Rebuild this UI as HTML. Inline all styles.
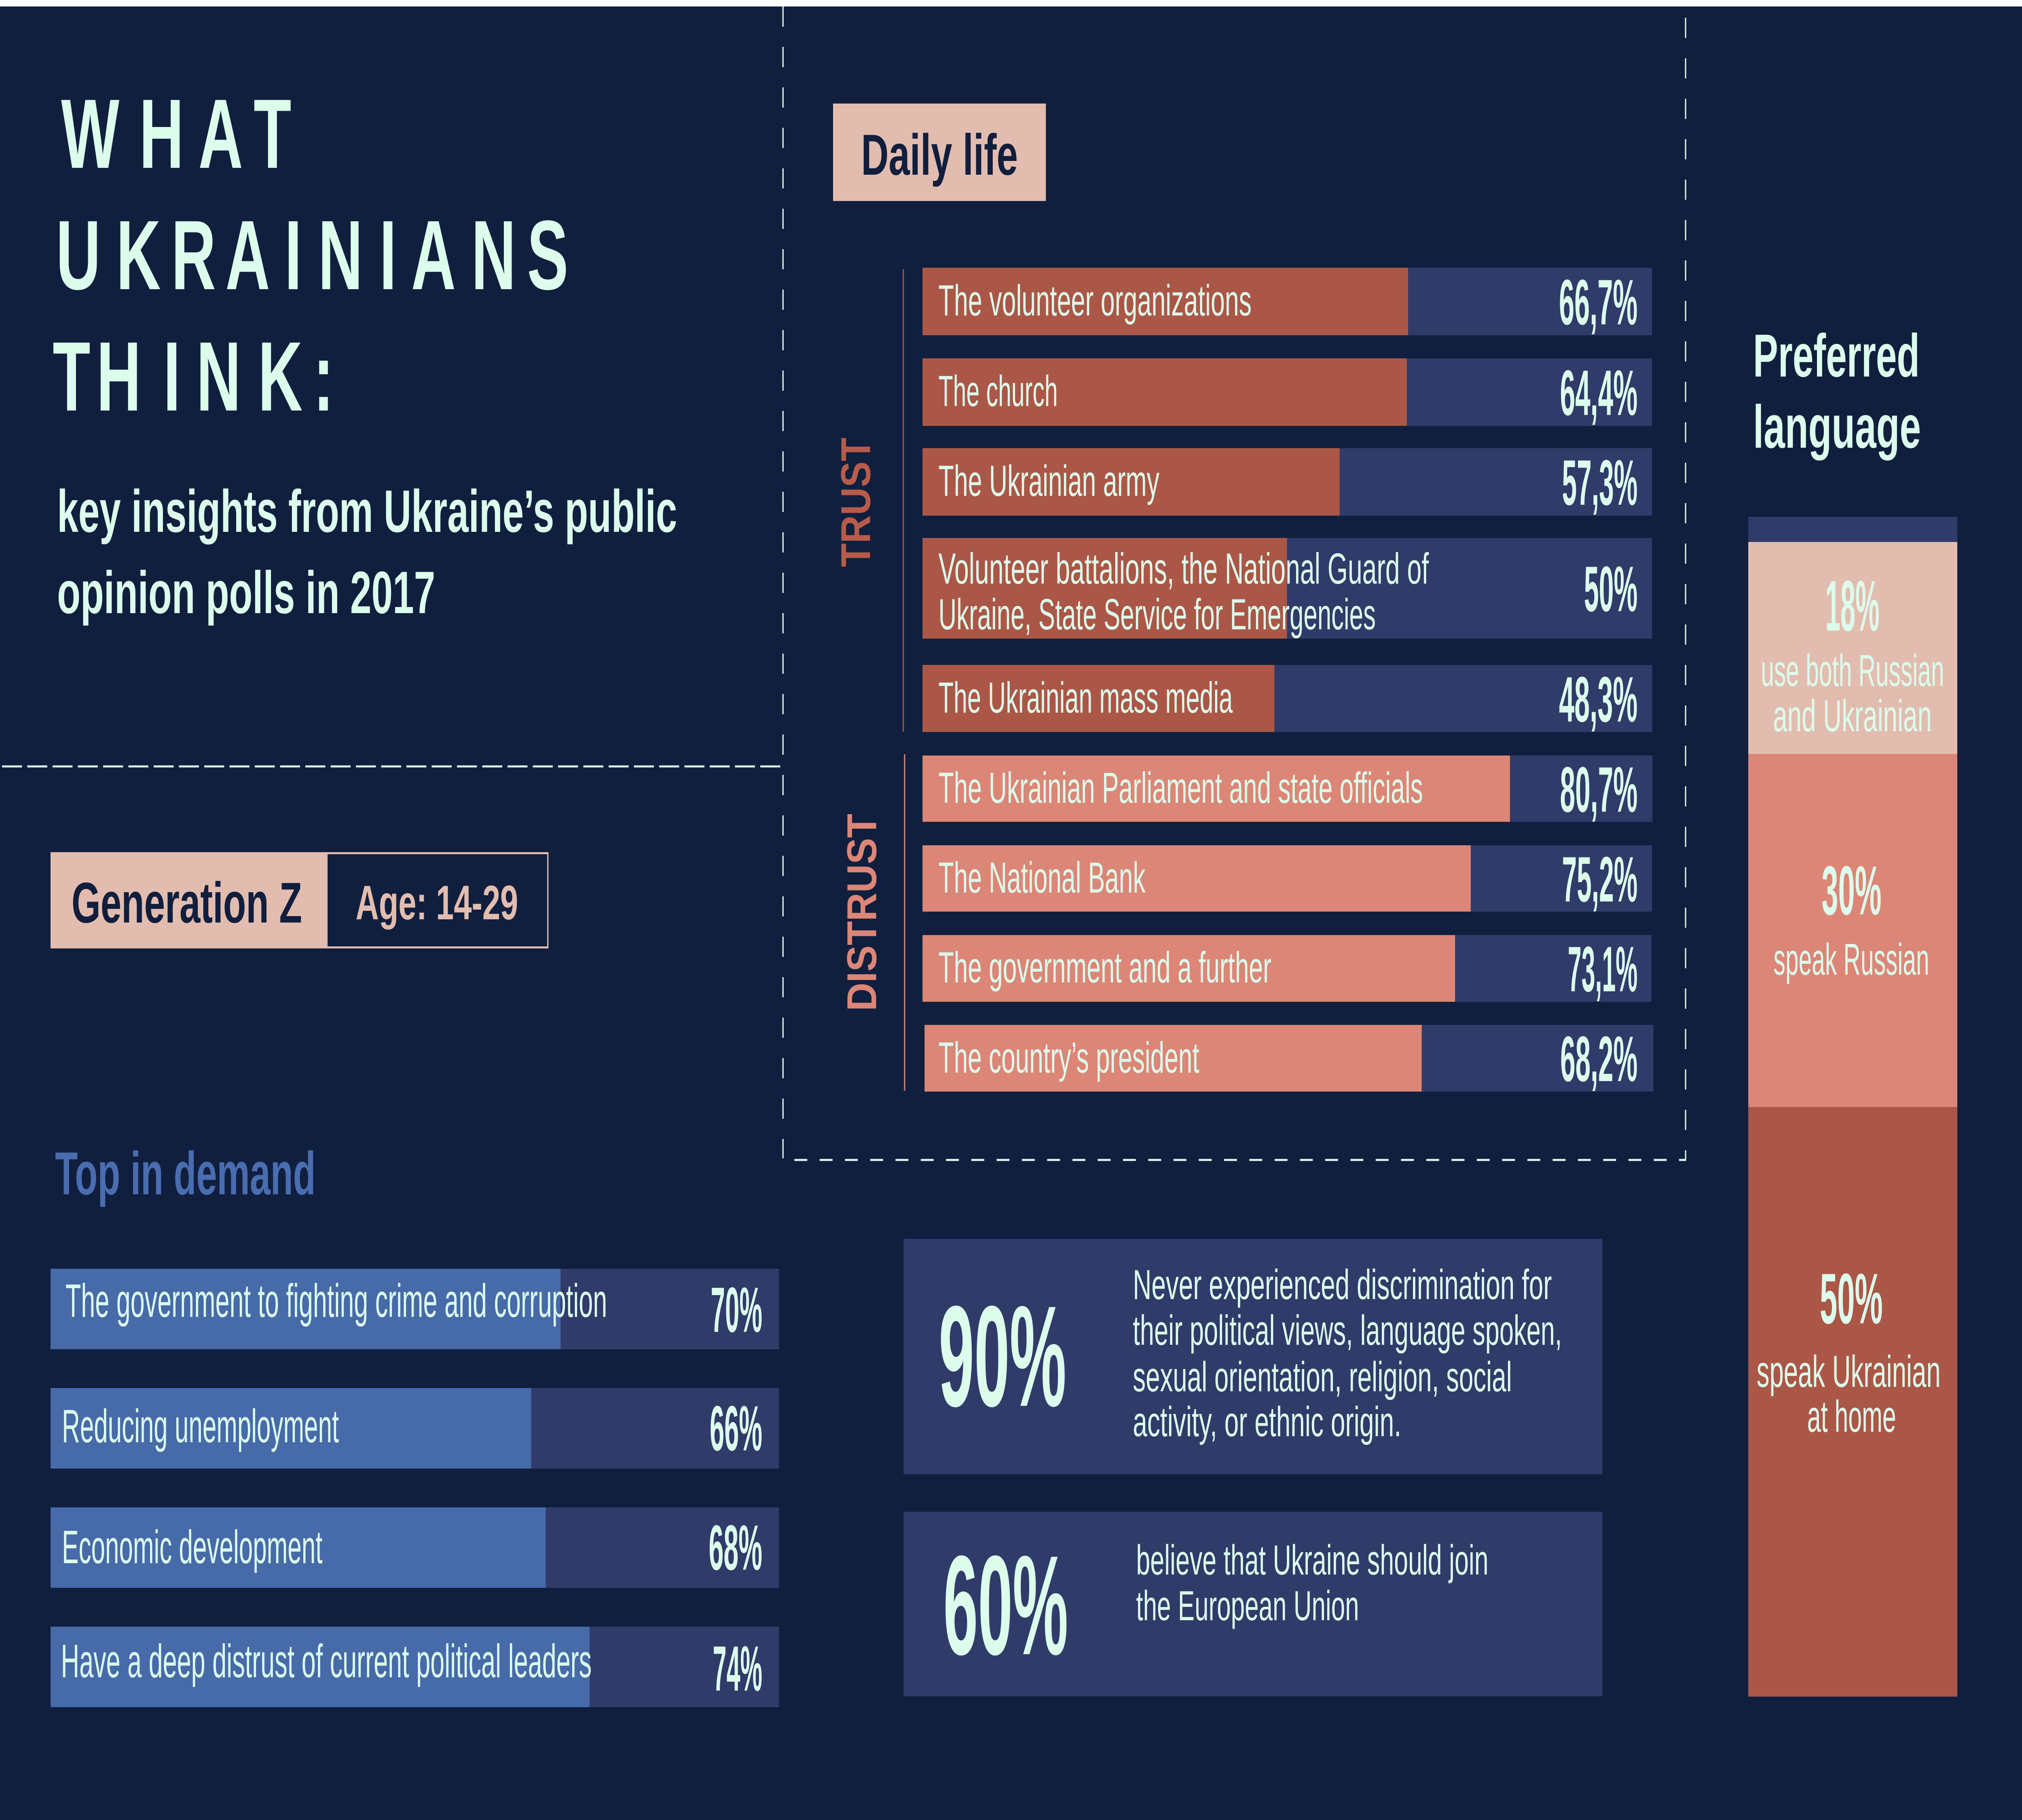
<!DOCTYPE html>
<html>
<head>
<meta charset="utf-8">
<style>
  html,body{margin:0;padding:0;width:100%;height:100%;overflow:hidden;background:#101f3e;}
  svg{display:block;width:100vw;height:100vh;}
  text{font-family:"Liberation Sans", sans-serif;}
</style>
</head>
<body>
<svg xmlns="http://www.w3.org/2000/svg" viewBox="0 0 8000 4500" preserveAspectRatio="none">
  <!-- background -->
  <rect x="0" y="0" width="8000" height="4500" fill="#101f3e"/>
  <rect x="0" y="0" width="8000" height="16" fill="#ffffff"/>

  <!-- dashed frame lines -->
  <g stroke="#dcfcec" stroke-width="5" fill="none">
    <line x1="3098" y1="16" x2="3098" y2="2864" stroke-dasharray="50 50"/>
    <line x1="8" y1="1895" x2="3088" y2="1895" stroke-dasharray="79 21"/>
    <line x1="6669" y1="44" x2="6669" y2="2869" stroke-dasharray="50 50"/>
    <line x1="3143" y1="2868" x2="6671" y2="2868" stroke-dasharray="51 49"/>
  </g>

  <!-- TITLE -->
  <g fill="#dcfcec" font-weight="bold" font-size="244" text-anchor="middle">
    <text x="357" y="415">W</text>
    <text x="639" y="415">H</text>
    <text x="873" y="415">A</text>
    <text x="1078" y="415">T</text>

    <text x="310" y="715">U</text>
    <text x="548" y="715">K</text>
    <text x="766" y="715">R</text>
    <text x="980" y="715">A</text>
    <text x="1160" y="715">I</text>
    <text x="1347" y="715">N</text>
    <text x="1535" y="715">I</text>
    <text x="1715" y="715">A</text>
    <text x="1953" y="715">N</text>
    <text x="2167" y="715">S</text>

    <text x="283" y="1015">T</text>
    <text x="470" y="1015">H</text>
    <text x="680" y="1015">I</text>
    <text x="865" y="1015">N</text>
    <text x="1109" y="1015">K</text>
    <text x="1280" y="1015">:</text>
  </g>

  <g fill="#dcfcec" font-weight="bold" font-size="148">
    <text x="226" y="1315" textLength="2453" lengthAdjust="spacingAndGlyphs">key insights from Ukraine’s public</text>
    <text x="226" y="1516" textLength="1496" lengthAdjust="spacingAndGlyphs">opinion polls in 2017</text>
  </g>

  <!-- Generation Z -->
  <rect x="200" y="2107" width="1091" height="238" fill="#e2bdaf"/>
  <rect x="1293.5" y="2109.5" width="874" height="233" fill="none" stroke="#e2bdaf" stroke-width="5"/>
  <text x="283" y="2281" font-weight="bold" font-size="142" fill="#111e3d" textLength="912" lengthAdjust="spacingAndGlyphs">Generation Z</text>
  <text x="1407" y="2273" font-weight="bold" font-size="120" fill="#e2bdaf" textLength="643" lengthAdjust="spacingAndGlyphs">Age: 14-29</text>

  <!-- Top in demand -->
  <text x="218" y="2953" font-weight="bold" font-size="150" fill="#4a6cb0" textLength="1031" lengthAdjust="spacingAndGlyphs">Top in demand</text>

  <g>
    <rect x="200" y="3137" width="2882" height="199" fill="#303b69"/>
    <rect x="200" y="3137" width="2018" height="199" fill="#476aa9"/>
    <rect x="200" y="3432" width="2882" height="199" fill="#303b69"/>
    <rect x="200" y="3432" width="1902" height="199" fill="#476aa9"/>
    <rect x="200" y="3727" width="2882" height="199" fill="#303b69"/>
    <rect x="200" y="3727" width="1959" height="199" fill="#476aa9"/>
    <rect x="200" y="4022" width="2882" height="199" fill="#303b69"/>
    <rect x="200" y="4022" width="2133" height="199" fill="#476aa9"/>
  </g>
  <g fill="#dcfcec" font-size="116">
    <text x="259" y="3256" textLength="2143" lengthAdjust="spacingAndGlyphs">The government to fighting crime and corruption</text>
    <text x="245" y="3566" textLength="1096" lengthAdjust="spacingAndGlyphs">Reducing unemployment</text>
    <text x="245" y="3865" textLength="1031" lengthAdjust="spacingAndGlyphs">Economic development</text>
    <text x="241" y="4147" textLength="2100" lengthAdjust="spacingAndGlyphs">Have a deep distrust of current political leaders</text>
  </g>
  <g fill="#dcfcec" font-size="158" font-weight="bold">
    <text x="2812" y="3293" textLength="204" lengthAdjust="spacingAndGlyphs">70%</text>
    <text x="2808" y="3586" textLength="208" lengthAdjust="spacingAndGlyphs">66%</text>
    <text x="2804" y="3881" textLength="212" lengthAdjust="spacingAndGlyphs">68%</text>
    <text x="2820" y="4180" textLength="196" lengthAdjust="spacingAndGlyphs">74%</text>
  </g>

  <!-- Daily life -->
  <rect x="3296" y="256" width="842" height="241" fill="#e2bdaf"/>
  <text x="3407" y="432" font-weight="bold" font-size="143" fill="#111e3d" textLength="620" lengthAdjust="spacingAndGlyphs">Daily life</text>

  <!-- TRUST / DISTRUST labels -->
  <line x1="3574" y1="666" x2="3574" y2="1809" stroke="#ab5747" stroke-width="5"/>
  <line x1="3579" y1="1865" x2="3579" y2="2697" stroke="#dc8677" stroke-width="5"/>
  <text transform="translate(3442,1402) rotate(-90)" font-size="165" font-weight="bold" fill="#b65c4a" textLength="320" lengthAdjust="spacingAndGlyphs">TRUST</text>
  <text transform="translate(3466,2500) rotate(-90)" font-size="165" font-weight="bold" fill="#dc8677" textLength="488" lengthAdjust="spacingAndGlyphs">DISTRUST</text>

  <!-- trust bars -->
  <g>
    <rect x="3650" y="662" width="2886" height="167" fill="#303b69"/>
    <rect x="3650" y="662" width="1921" height="167" fill="#ab5747"/>
    <rect x="3650" y="886" width="2886" height="167" fill="#303b69"/>
    <rect x="3650" y="886" width="1916" height="167" fill="#ab5747"/>
    <rect x="3650" y="1108" width="2886" height="167" fill="#303b69"/>
    <rect x="3650" y="1108" width="1650" height="167" fill="#ab5747"/>
    <rect x="3650" y="1330" width="2886" height="249" fill="#303b69"/>
    <rect x="3650" y="1330" width="1442" height="249" fill="#ab5747"/>
    <rect x="3650" y="1644" width="2887" height="166" fill="#303b69"/>
    <rect x="3650" y="1644" width="1392" height="166" fill="#ab5747"/>

    <rect x="3650" y="1868" width="2888" height="164" fill="#303b69"/>
    <rect x="3650" y="1868" width="2324" height="164" fill="#dc8677"/>
    <rect x="3650" y="2090" width="2886" height="164" fill="#303b69"/>
    <rect x="3650" y="2090" width="2169" height="164" fill="#dc8677"/>
    <rect x="3650" y="2312" width="2884" height="165" fill="#303b69"/>
    <rect x="3650" y="2312" width="2107" height="165" fill="#dc8677"/>
    <rect x="3658" y="2534" width="2884" height="165" fill="#303b69"/>
    <rect x="3658" y="2534" width="1967" height="165" fill="#dc8677"/>
  </g>
  <g fill="#dcfcec" font-size="108">
    <text x="3713" y="780" textLength="1239" lengthAdjust="spacingAndGlyphs">The volunteer organizations</text>
    <text x="3713" y="1004" textLength="472" lengthAdjust="spacingAndGlyphs">The church</text>
    <text x="3713" y="1226" textLength="874" lengthAdjust="spacingAndGlyphs">The Ukrainian army</text>
    <text x="3713" y="1443" textLength="1940" lengthAdjust="spacingAndGlyphs">Volunteer battalions, the National Guard of</text>
    <text x="3713" y="1556" textLength="1730" lengthAdjust="spacingAndGlyphs">Ukraine, State Service for Emergencies</text>
    <text x="3713" y="1762" textLength="1164" lengthAdjust="spacingAndGlyphs">The Ukrainian mass media</text>
    <text x="3713" y="1985" textLength="1917" lengthAdjust="spacingAndGlyphs">The Ukrainian Parliament and state officials</text>
    <text x="3713" y="2207" textLength="819" lengthAdjust="spacingAndGlyphs">The National Bank</text>
    <text x="3713" y="2429" textLength="1317" lengthAdjust="spacingAndGlyphs">The government and a further</text>
    <text x="3713" y="2652" textLength="1032" lengthAdjust="spacingAndGlyphs">The country’s president</text>
  </g>
  <g fill="#dcfcec" font-size="159" font-weight="bold">
    <text x="6168" y="802" textLength="311" lengthAdjust="spacingAndGlyphs">66,7%</text>
    <text x="6172" y="1026" textLength="307" lengthAdjust="spacingAndGlyphs">64,4%</text>
    <text x="6180" y="1248" textLength="299" lengthAdjust="spacingAndGlyphs">57,3%</text>
    <text x="6267" y="1511" textLength="212" lengthAdjust="spacingAndGlyphs">50%</text>
    <text x="6168" y="1784" textLength="311" lengthAdjust="spacingAndGlyphs">48,3%</text>
    <text x="6172" y="2007" textLength="307" lengthAdjust="spacingAndGlyphs">80,7%</text>
    <text x="6180" y="2229" textLength="299" lengthAdjust="spacingAndGlyphs">75,2%</text>
    <text x="6203" y="2451" textLength="276" lengthAdjust="spacingAndGlyphs">73,1%</text>
    <text x="6173" y="2673" textLength="306" lengthAdjust="spacingAndGlyphs">68,2%</text>
  </g>

  <!-- info boxes -->
  <rect x="3575" y="3063" width="2765" height="582" fill="#303b69"/>
  <rect x="3575" y="3738" width="2765" height="456" fill="#303b69"/>
  <text x="3714" y="3476" font-size="355" font-weight="bold" fill="#dcfcec" textLength="505" lengthAdjust="spacingAndGlyphs">90%</text>
  <text x="3732" y="4090" font-size="350" font-weight="bold" fill="#dcfcec" textLength="494" lengthAdjust="spacingAndGlyphs">60%</text>
  <g fill="#dcfcec" font-size="104">
    <text x="4482" y="3212" textLength="1658" lengthAdjust="spacingAndGlyphs">Never experienced discrimination for</text>
    <text x="4482" y="3325" textLength="1698" lengthAdjust="spacingAndGlyphs">their political views, language spoken,</text>
    <text x="4482" y="3440" textLength="1500" lengthAdjust="spacingAndGlyphs">sexual orientation, religion, social</text>
    <text x="4482" y="3551" textLength="1062" lengthAdjust="spacingAndGlyphs">activity, or ethnic origin.</text>
    <text x="4495" y="3893" textLength="1394" lengthAdjust="spacingAndGlyphs">believe that Ukraine should join</text>
    <text x="4495" y="4006" textLength="882" lengthAdjust="spacingAndGlyphs">the European Union</text>
  </g>

  <!-- Preferred language -->
  <g fill="#dcfcec" font-weight="bold" font-size="150">
    <text x="6936" y="931" textLength="659" lengthAdjust="spacingAndGlyphs">Preferred</text>
    <text x="6936" y="1107" textLength="664" lengthAdjust="spacingAndGlyphs">language</text>
  </g>
  <rect x="6917" y="1278" width="827" height="62" fill="#303b69"/>
  <rect x="6917" y="1340" width="827" height="524" fill="#e2bdaf"/>
  <rect x="6917" y="1864" width="827" height="873" fill="#dc8677"/>
  <rect x="6917" y="2737" width="827" height="1458" fill="#ab5747"/>
  <g fill="#dcfcec">
    <text x="7222" y="1559" font-size="177" font-weight="bold" textLength="214" lengthAdjust="spacingAndGlyphs">18%</text>
    <text x="6967" y="1696" font-size="110" textLength="725" lengthAdjust="spacingAndGlyphs">use both Russian</text>
    <text x="7015" y="1808" font-size="110" textLength="628" lengthAdjust="spacingAndGlyphs">and Ukrainian</text>
    <text x="7207" y="2261" font-size="172" font-weight="bold" textLength="237" lengthAdjust="spacingAndGlyphs">30%</text>
    <text x="7017" y="2410" font-size="110" textLength="616" lengthAdjust="spacingAndGlyphs">speak Russian</text>
    <text x="7200" y="3272" font-size="177" font-weight="bold" textLength="249" lengthAdjust="spacingAndGlyphs">50%</text>
    <text x="6950" y="3429" font-size="110" textLength="728" lengthAdjust="spacingAndGlyphs">speak Ukrainian</text>
    <text x="7150" y="3540" font-size="110" textLength="352" lengthAdjust="spacingAndGlyphs">at home</text>
  </g>
</svg>
</body>
</html>
